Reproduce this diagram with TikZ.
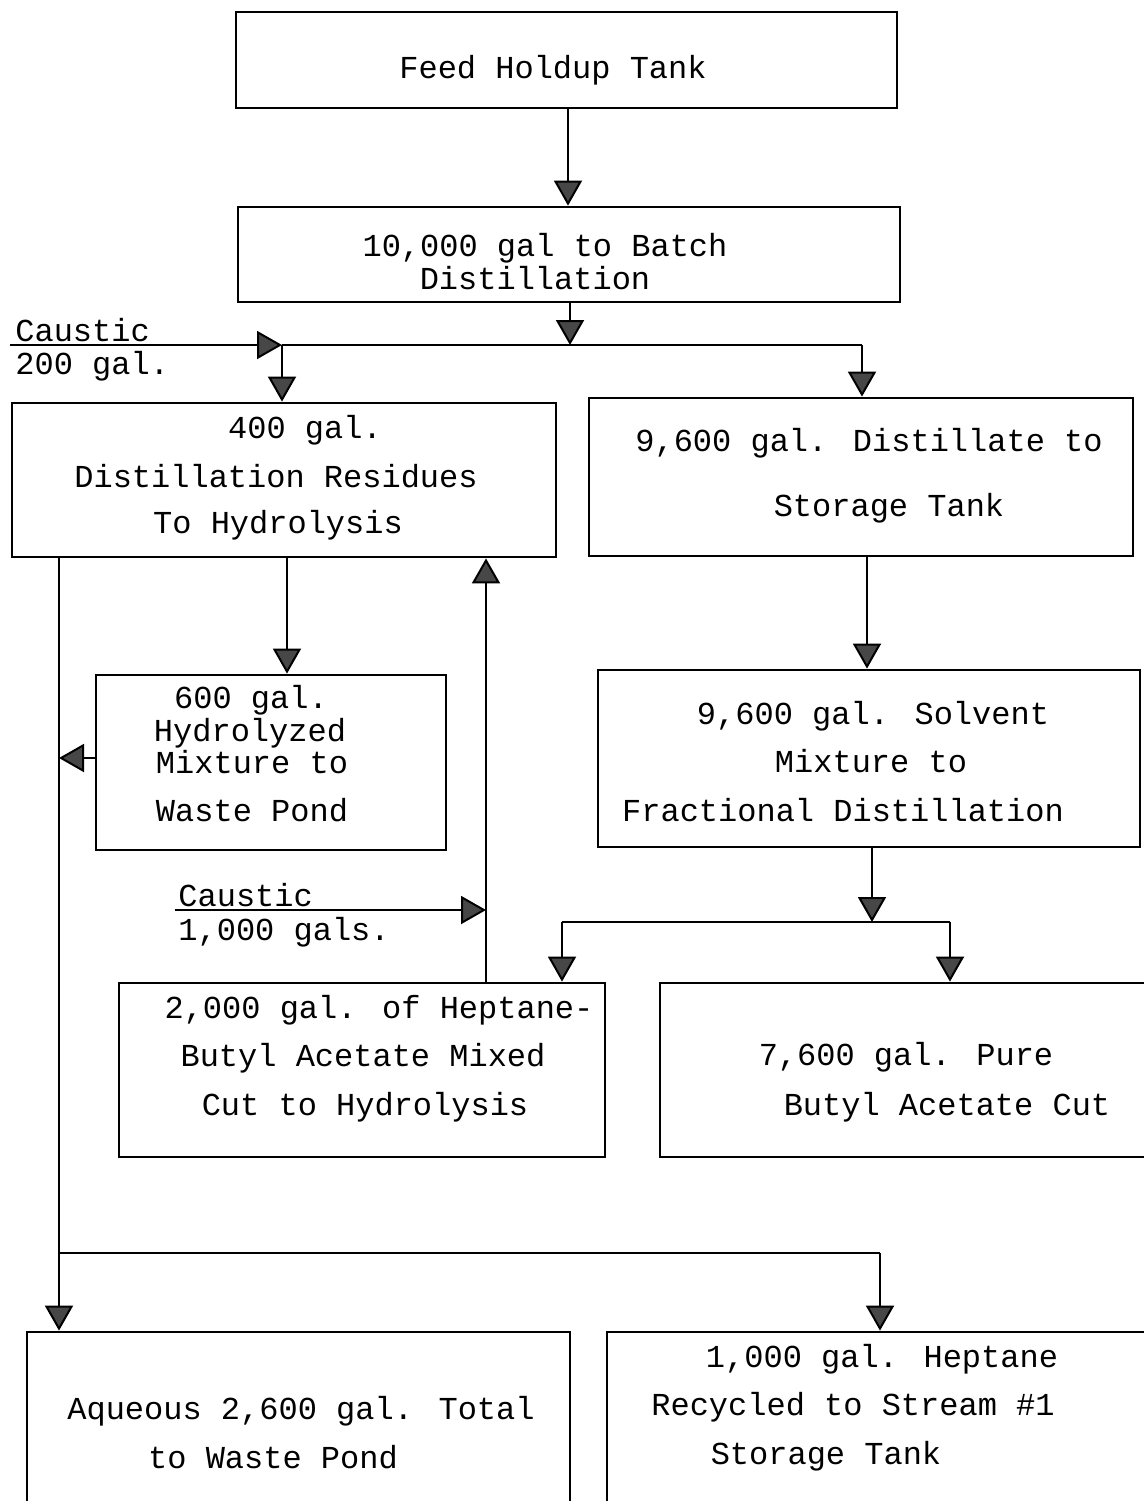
\documentclass[tikz,border=0pt]{standalone}
\usepackage{fontspec}
\setmainfont{Liberation Mono}
\usetikzlibrary{arrows.meta,fit}
\begin{document}
\begin{tikzpicture}[x=0.5pt,y=-0.5pt,
  box/.style={draw, line width=1.4pt, inner sep=0pt},
  lbl/.style={anchor=base, inner sep=0pt, font=\fontsize{16}{16}\selectfont},
  lblw/.style={anchor=base west, inner sep=0pt, font=\fontsize{16}{16}\selectfont},
  conn/.style={line width=1pt},
  arr/.style={conn, -{Triangle[width=14pt,length=12.5pt,fill=black!72]}}]
\fill[white] (0,0) rectangle (1144,1501);
\useasboundingbox (0,0) rectangle (1144,1501);
\clip (0,0) rectangle (1144,1501);

% boxes
\node[box, fit={(236,12) (897,108)}] (b1) {};
\node[box, fit={(238,207) (900,302)}] (b2) {};
\node[box, fit={(12,403) (556,557)}] (b3) {};
\node[box, fit={(589,398) (1133,556)}] (b4) {};
\node[box, fit={(96,675) (446,850)}] (b5) {};
\node[box, fit={(598,670) (1140,847)}] (b6) {};
\node[box, fit={(119,983) (605,1157)}] (b7) {};
\node[box, fit={(660,983) (1160,1157)}] (b8) {};
\node[box, fit={(27,1332) (570,1530)}] (b9) {};
\node[box, fit={(607,1332) (1160,1530)}] (b10) {};

% texts
\node[lbl] (t1) at (553,78) {Feed Holdup Tank};
\node[lbl] (t2a) at (545,256) {10,000 gal to Batch};
\node[lbl] (t2b) at (535,289) {Distillation};
\node[lbl] (t3a) at (305,438) {400 gal.};
\node[lbl] (t3b) at (276,487) {Distillation Residues};
\node[lbl] (t3c) at (278,533) {To Hydrolysis};
\node[lbl] (t4a) at (869,451) {9,600 gal. Distillate to};
\node[lbl] (t4b) at (889,516) {Storage Tank};
\node[lbl] (t5a) at (251,708) {600 gal.};
\node[lbl] (t5b) at (250,741) {Hydrolyzed};
\node[lbl] (t5c) at (252,773) {Mixture to};
\node[lbl] (t5d) at (252,821) {Waste Pond};
\node[lbl] (t6a) at (873,724) {9,600 gal. Solvent};
\node[lbl] (t6b) at (871,772) {Mixture to};
\node[lbl] (t6c) at (843,821) {Fractional Distillation};
\node[lbl] (t7a) at (379,1018) {2,000 gal. of Heptane-};
\node[lbl] (t7b) at (363,1066) {Butyl Acetate Mixed};
\node[lbl] (t7c) at (365,1115) {Cut to Hydrolysis};
\node[lbl] (t8a) at (906,1065) {7,600 gal. Pure};
\node[lbl] (t8b) at (947,1115) {Butyl Acetate Cut};
\node[lbl] (t9a) at (301,1419) {Aqueous 2,600 gal. Total};
\node[lbl] (t9b) at (273,1468) {to Waste Pond};
\node[lbl] (t10a) at (882,1367) {1,000 gal. Heptane};
\node[lbl] (t10b) at (853,1415) {Recycled to Stream \#1};
\node[lbl] (t10c) at (826,1464) {Storage Tank};
\node[lblw] (k1a) at (15,341) {Caustic};
\node[lblw] (k1b) at (15,374) {200 gal.};
\node[lblw] (k2a) at (178,906) {Caustic};
\node[lblw] (k2b) at (178,940) {1,000 gals.};

% junction coordinates
\coordinate (c1) at (568,150);
\coordinate (s1) at (570,345);
\coordinate (s1l) at (282,345);
\coordinate (s1r) at (862,345);
\coordinate (ca1) at (10,345);
\coordinate (c3) at (287,600);
\coordinate (c4) at (867,600);
\coordinate (lv) at (59,758);
\coordinate (h2l) at (59,1253);
\coordinate (h2r) at (880,1253);
\coordinate (c7) at (486,900);
\coordinate (ca2) at (175,910);
\coordinate (s2) at (872,922);
\coordinate (s2l) at (562,922);
\coordinate (s2r) at (950,922);

% connectors
\draw[arr] (b1.south -| c1) -- (b2.north -| c1);
\draw[arr] (b2.south -| s1) -- (s1);
\draw[conn] (s1l) -- (s1r);
\draw[arr] (ca1) -- (s1l);
\draw[arr] (s1l) -- (b3.north -| s1l);
\draw[arr] (s1r) -- (b4.north -| s1r);
\draw[arr] (b3.south -| c3) -- (b5.north -| c3);
\draw[arr] (b4.south -| c4) -- (b6.north -| c4);
\draw[arr] (b5.west |- lv) -- (lv);
\draw[arr] (b3.south -| lv) -- (b9.north -| lv);
\draw[conn] (h2l) -- (h2r);
\draw[arr] (h2r) -- (b10.north -| h2r);
\draw[arr] (b7.north -| c7) -- (b3.south -| c7);
\draw[arr] (ca2) -- (ca2 -| c7);
\draw[arr] (b6.south -| s2) -- (s2);
\draw[conn] (s2l) -- (s2r);
\draw[arr] (s2l) -- (b7.north -| s2l);
\draw[arr] (s2r) -- (b8.north -| s2r);
\end{tikzpicture}
\end{document}
